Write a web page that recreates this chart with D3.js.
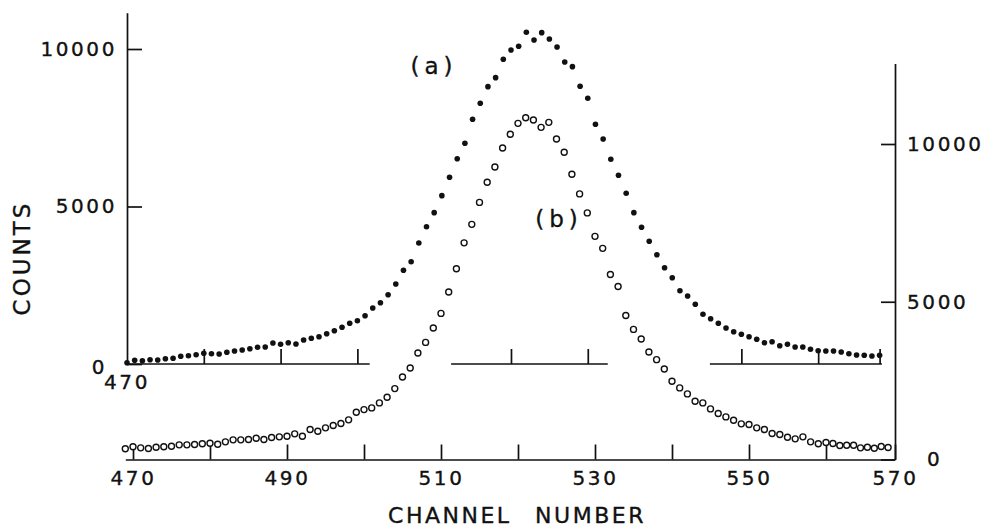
<!DOCTYPE html>
<html><head><meta charset="utf-8">
<script src="https://cdn.jsdelivr.net/npm/d3@7"></script>
<style>
body{margin:0;background:#fff;}
svg text{font-family:"DejaVu Sans",sans-serif;fill:#111;stroke:#111;stroke-width:0.35px;}
</style></head><body>
<svg id="chart" width="988" height="529"></svg>
<script>
// ---- data ----
const channelsA = d3.range(470, 569); // 470..568
const countsA = [
  40,117,105,137,127,168,181,244,264,295,
  340,327,318,371,413,445,486,530,540,667,
  625,676,635,762,816,867,962,1057,1165,1292,
  1375,1534,1778,1946,2200,2540,2975,3248,3842,4359,
  4804,5344,5928,6518,7007,7769,8277,8804,9090,9674,
  9970,10087,10531,10287,10519,10319,10065,9589,9439,8817,
  8436,7610,7144,6499,5991,5420,4804,4340,3896,3470,
  3057,2740,2327,2159,1895,1578,1438,1292,1143,1025,
  943,867,784,676,708,581,625,540,540,467,
  422,413,413,381,327,286,276,254,276
];
const channelsB = d3.range(469, 570); // 469..569
const countsB = [
  339,402,370,348,389,402,421,465,465,475,
  497,516,484,560,623,623,633,674,633,696,
  718,737,813,737,949,896,1003,1076,1139,1256,
  1497,1582,1636,1794,1972,2247,2617,2902,3377,3712,
  4168,4630,5307,6044,6867,7453,8149,8788,9272,9873,
  10307,10655,10832,10759,10528,10687,10158,9737,9041,8418,
  7816,7073,6693,5864,5484,4566,4123,3820,3408,3165,
  2870,2478,2269,2079,1845,1794,1604,1456,1351,1244,
  1130,1108,1003,949,823,791,706,655,718,560,
  497,538,506,443,453,453,370,389,358,411,380
];
const xTicksB = d3.range(470, 571, 10);
const xTickLabelsB = [470, 490, 510, 530, 550, 570];
const xTicksA = [480, 490, 500, 520, 530, 550, 560, 568];
const axisASegments = [[470, 501.6], [512.2, 532.6], [545.9, 568.3]];
const yTicks = [0, 5000, 10000];
const yTopA = 11150, yTopB = 12550;

// ---- scales ----
const svg = d3.select("#chart");
const xA = d3.scaleLinear().domain([470, 568]).range([127, 879.6]);
const yA = d3.scaleLinear().domain([0, 10000]).range([364, 49]);
const xB = d3.scaleLinear().domain([469, 560, 570]).range([125.3, 826, 895]);
const yB = d3.scaleLinear().domain([0, 10000]).range([459.5, 144]);
const fmt = d3.format("d");

const tickFont = g => g.selectAll("text")
  .style("font-size", "20px").style("letter-spacing", "2.6px")
  .style("font-family", '"DejaVu Sans",sans-serif').attr("fill", "#111");
const axisStyle = g => { g.selectAll("path,line").attr("stroke", "#111").attr("stroke-width", 1.7); };

// left axis (series a)
const yAaxis = yA.copy().domain([0, yTopA]).range([yA(0), yA(yTopA)]);
svg.append("g").attr("transform", `translate(${xA(470)},0)`)
  .call(d3.axisLeft(yAaxis).tickValues(yTicks).tickFormat(fmt).tickSizeInner(-15).tickSizeOuter(0).tickPadding(10))
  .call(axisStyle).call(tickFont)
  .call(g => g.selectAll(".tick").filter(d => d === 0).select("text").attr("dx", -10).attr("dy", "0.45em"));

// top broken x axis (series a)
svg.append("g").attr("transform", `translate(0,${yA(0)})`)
  .call(d3.axisBottom(xA).tickValues(xTicksA).tickSizeInner(-15).tickSizeOuter(0).tickFormat(""))
  .call(g => g.select(".domain").remove())
  .call(axisStyle);
svg.append("g").selectAll("line").data(axisASegments).join("line")
  .attr("x1", d => xA(d[0])).attr("x2", d => xA(d[1]))
  .attr("y1", yA(0)).attr("y2", yA(0))
  .attr("stroke", "#111").attr("stroke-width", 1.7);
svg.append("text").attr("x", xA(470)).attr("y", yA(0) + 25)
  .attr("text-anchor", "middle").style("font-size", "20px").style("letter-spacing", "2.6px")
  .text("470");

// bottom x axis (series b)
svg.append("g").attr("transform", `translate(0,${yB(0)})`)
  .call(d3.axisBottom(xB).tickValues(xTicksB).tickSizeInner(-15).tickSizeOuter(0).tickPadding(11)
    .tickFormat(d => xTickLabelsB.includes(d) ? fmt(d) : ""))
  .call(axisStyle).call(tickFont);

// right axis (series b)
const yBaxis = yB.copy().domain([0, yTopB]).range([yB(0), yB(yTopB)]);
svg.append("g").attr("transform", `translate(${xB(570)},0)`)
  .call(d3.axisRight(yBaxis).tickValues(yTicks).tickFormat(fmt).tickSizeInner(-14).tickSizeOuter(0).tickPadding(12))
  .call(axisStyle).call(tickFont)
  .call(g => g.selectAll(".tick").filter(d => d === 0).select("text").attr("dx", 20));

// ---- marks ----
svg.append("g").selectAll("circle").data(channelsA.map((c, i) => [c, countsA[i]])).join("circle")
  .attr("cx", d => xA(d[0])).attr("cy", d => yA(d[1])).attr("r", 2.8).attr("fill", "#111");
svg.append("g").selectAll("circle").data(channelsB.map((c, i) => [c, countsB[i]])).join("circle")
  .attr("cx", d => xB(d[0])).attr("cy", d => yB(d[1])).attr("r", 3)
  .attr("fill", "#fff").attr("stroke", "#111").attr("stroke-width", 1.4);

// ---- labels ----
svg.append("text").attr("transform", "translate(22,258) rotate(-90)")
  .attr("text-anchor", "middle").attr("dominant-baseline", "central")
  .style("font-size", "23px").style("letter-spacing", "3px").text("COUNTS");
svg.append("text").attr("x", 517).attr("y", 523).attr("text-anchor", "middle")
  .style("font-size", "22px").style("letter-spacing", "2.5px").style("word-spacing", "14px")
  .text("CHANNEL NUMBER");
svg.append("text").attr("x", 434).attr("y", 74).attr("text-anchor", "middle")
  .style("font-size", "23px").style("letter-spacing", "5px").text("(a)");
svg.append("text").attr("x", 559).attr("y", 227).attr("text-anchor", "middle")
  .style("font-size", "23px").style("letter-spacing", "5px").text("(b)");
</script>
</body></html>
